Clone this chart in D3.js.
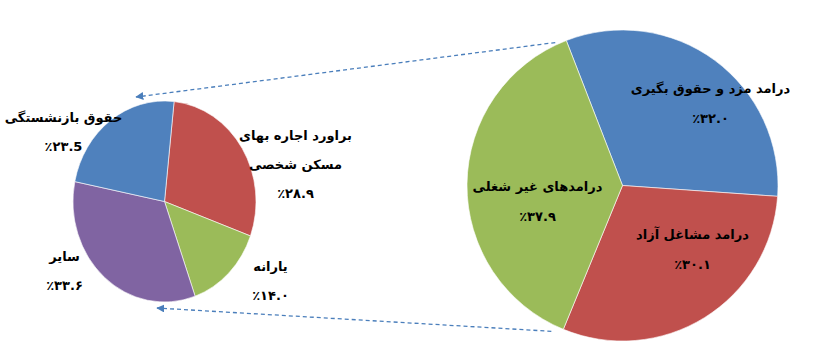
<!DOCTYPE html>
<html>
<head>
<meta charset="utf-8">
<script src="https://cdn.jsdelivr.net/npm/d3@7"></script>
<style>
  body { margin: 0; background: #fff; }
  svg { display: block; }
  .lbl { font-family: "DejaVu Sans", sans-serif; font-weight: bold; font-size: 13px; fill: #000; }
</style>
</head>
<body>
<div id="chart"></div>
<script>
// big pie: income sources
const bigLabels = [["درامد مزد و حقوق بگیری"], ["درامد مشاغل آزاد"], ["درامدهای غیر شغلی"]];
const bigValues = [32.0, 30.1, 37.9];
const bigText = ["٪۳۲.۰", "٪۳۰.۱", "٪۳۷.۹"];
const bigColors = ["#4f81bd", "#c0504d", "#9bbb59"];

// small pie: breakdown of non-job income
const smallLabels = [["براورد اجاره بهای", "مسکن شخصی"], ["یارانه"], ["سایر"], ["حقوق بازنشستگی"]];
const smallValues = [28.9, 14.0, 33.6, 23.5];
const smallText = ["٪۲۸.۹", "٪۱۴.۰", "٪۳۳.۶", "٪۲۳.5"];
const smallColors = ["#c0504d", "#9bbb59", "#8064a2", "#4f81bd"];

const W = 824, H = 354;

let svg = d3.select("#chart").append("svg")
    .attr("width", W)
    .attr("height", H);

// geometry
const big = {cx: 622.5, cy: 185.5, r: 155.5, start: -0.37};
const small = {cx: 164.5, cy: 201.5, r: 91.5, sy: 100.5 / 91.5, start: 0.105};

// label nudges relative to pie centre (first line baseline)
const bigLabelAt = [[88, -93], [70, 53], [-85, 5]];
const smallLabelAt = [[131, -62], [106, 69], [-100, 59], [-101, -80]];

function drawPie(g, values, colors, cfg) {
    let pie = d3.pie().sort(null).value(d => d)
        .startAngle(cfg.start).endAngle(cfg.start + 2 * Math.PI);
    let arc = d3.arc().innerRadius(0).outerRadius(cfg.r);
    let arcs = pie(values);
    g.selectAll("path")
        .data(arcs)
        .join("path")
        .attr("d", arc)
        .attr("fill", (d, i) => colors[i])
        .attr("stroke", "#fff")
        .attr("stroke-width", 0.6)
        .attr("vector-effect", "non-scaling-stroke");
    return arcs;
}

let gBig = svg.append("g").attr("transform", `translate(${big.cx},${big.cy})`);
let bigArcs = drawPie(gBig, bigValues, bigColors, big);

let gSmall = svg.append("g").attr("transform", `translate(${small.cx},${small.cy}) scale(1,${small.sy})`);
drawPie(gSmall, smallValues, smallColors, small);

function addLabels(cx, cy, labels, texts, offs, gap) {
    labels.forEach((lines, i) => {
        let all = lines.concat([texts[i]]);
        all.forEach((t, j) => {
            svg.append("text")
                .attr("class", "lbl")
                .attr("x", cx + offs[i][0])
                .attr("y", cy + offs[i][1] + j * gap)
                .attr("text-anchor", "middle")
                .attr("direction", j < lines.length ? "rtl" : "ltr")
                .text(t);
        });
    });
}
addLabels(big.cx, big.cy, bigLabels, bigText, bigLabelAt, 30);
addLabels(small.cx, small.cy, smallLabels, smallText, smallLabelAt, 29);

// dashed connector arrows from the "non-job income" slice to the small pie
const lineCol = "#4a7ebb";
svg.append("defs").append("marker")
    .attr("id", "arr")
    .attr("viewBox", "0 0 10 10")
    .attr("refX", 9).attr("refY", 5)
    .attr("markerWidth", 8).attr("markerHeight", 8)
    .attr("markerUnits", "userSpaceOnUse")
    .attr("orient", "auto")
    .append("path")
    .attr("d", "M0,0L10,5L0,10z")
    .attr("fill", lineCol);

let green = bigArcs[2];
function bigPt(a, dx) {
    return [big.cx + big.r * Math.sin(a) + dx, big.cy - big.r * Math.cos(a) + 2];
}
function smallPt(a, k) {
    return [small.cx + small.r * k * Math.sin(a), small.cy - small.r * small.sy * k * Math.cos(a)];
}
let connectors = [
    [bigPt(green.endAngle, -11), smallPt(-0.29, 1.085)],
    [bigPt(green.startAngle, -12), smallPt(Math.PI + 0.077, 1.063)]
];
connectors.forEach(([p0, p1]) => {
    svg.append("line")
        .attr("x1", p0[0]).attr("y1", p0[1])
        .attr("x2", p1[0]).attr("y2", p1[1])
        .attr("stroke", lineCol)
        .attr("stroke-width", 1.3)
        .attr("stroke-dasharray", "4,3")
        .attr("marker-end", "url(#arr)");
});
</script>
</body>
</html>
